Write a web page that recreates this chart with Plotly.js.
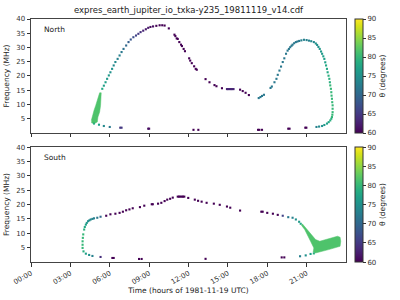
<!DOCTYPE html>
<html>
<head>
<meta charset="utf-8">
<script src="https://cdn.plot.ly/plotly-3.0.1.min.js"></script>
<style>html,body{margin:0;padding:0;background:#fff}#chart{width:400px;height:300px}</style>
</head>
<body>
<div id="chart"></div>
<script>
// ---- Data (hours of day, MHz, degrees) ----
var tickHours = [0, 3, 6, 9, 12, 15, 18, 21];
var tickLabels = ["00:00", "03:00", "06:00", "09:00", "12:00", "15:00", "18:00", "21:00"];
var freqTicks = [5, 10, 15, 20, 25, 30, 35, 40];
var thetaTicks = [60, 65, 70, 75, 80, 85, 90];

var northTime = [4.8,5.18,5.55,6.0,6.8,6.9,8.93,9.0,12.38,12.75,
  5.43,5.55,5.68,5.8,5.93,6.05,6.18,6.3,6.43,6.6,6.75,6.9,7.05,7.25,7.43,7.6,7.8,8.0,8.18,8.35,8.55,8.75,8.93,9.1,9.3,9.55,9.8,10.0,10.18,10.5,
  10.93,11.0,11.1,11.18,11.3,11.43,11.5,11.63,11.73,12.05,12.13,12.25,12.43,12.55,12.63,13.3,13.6,13.98,14.13,14.55,
  14.93,15.03,15.13,15.23,15.33,15.43,15.93,16.13,16.35,16.6,
  17.35,17.48,17.6,17.75,18.25,18.35,18.55,18.7,18.8,18.93,19.05,19.18,19.3,19.43,19.55,19.65,19.75,19.85,19.93,20.05,20.18,20.3,20.43,20.6,20.8,21.0,21.18,21.35,21.55,21.7,21.8,21.9,22.0,22.1,22.18,22.27,22.35,22.42,22.48,22.55,22.6,22.67,22.73,22.77,22.8,22.85,22.88,22.9,22.93,22.95,22.98,22.98,22.98,22.96,22.93,22.88,22.8,22.68,22.55,22.35,22.18,21.95,21.75,
  20.9,20.98,19.6,19.7,17.3,17.4,17.6];
var northFreq = [3.3,2.9,2.45,2.1,1.85,1.85,1.5,1.5,1.1,1.1,
  15.5,16.6,17.8,19.0,20.2,21.3,22.5,23.7,24.9,26.0,27.2,28.4,29.5,30.7,31.9,32.8,33.6,34.2,34.8,35.4,35.9,36.4,36.9,37.2,37.4,37.6,37.8,37.8,37.7,36.7,
  34.5,34.0,33.2,33.0,31.9,31.0,30.5,29.5,28.7,26.2,25.4,24.5,23.4,22.5,22.2,18.9,17.8,16.8,16.4,15.7,
  15.4,15.4,15.4,15.4,15.4,15.4,15.2,14.7,14.1,13.3,
  12.25,12.6,13.0,13.4,15.8,16.3,17.8,19.0,20.4,21.9,23.3,24.9,26.2,27.8,28.9,29.5,30.1,30.6,31.0,31.5,31.9,32.1,32.3,32.5,32.7,32.6,32.4,32.2,31.9,31.4,30.9,30.2,29.5,28.6,27.8,26.9,26.0,24.8,23.7,22.5,21.3,20.1,19.0,17.8,16.7,15.5,14.3,13.1,12.0,10.8,9.7,8.5,7.3,6.4,5.6,5.0,4.4,3.8,3.3,2.8,2.45,2.25,2.1,
  1.85,1.85,1.5,1.5,1.1,1.1,1.1];
var northTheta = [79,77,74,72,65,65,61,61,60,60,
  78,77,77,76,76,75,75,74,74,73,73,72,71,70,69,68,67,66,65,64,63,62,62,61,61,60,60,60,60,60,
  60,60,60,60,60,60,60,60,60,60,60,60,60,60,60,60,60,60,60,60,
  63,63,63,63,63,63,60,60,60,60,
  72,72,72,72,72,72,72,72,72,72,72,72,72,72,72,72,72,72,72,72,72,72,72,73,73,73,73,74,74,75,75,75,76,76,76,77,77,77,78,78,78,79,79,79,80,80,80,80,80,80,80,80,80,80,80,79,79,78,77,76,75,74,73,
  60,60,60,60,60,60,60];

// thick emission region (outline) in the northern panel
var northBlobTime = [4.6,4.68,4.8,4.93,5.05,5.15,5.23,5.35,5.35,5.3,5.23,5.1,5.05,4.8,4.6];
var northBlobFreq = [4.42,6.17,7.92,9.67,11.42,13.17,14.1,14.1,12.0,9.67,7.34,5.59,3.84,3.26,3.6];

var southTime = [5.3,4.68,4.43,4.18,4.0,3.93,3.93,3.93,3.95,3.98,4.05,4.1,4.18,4.25,4.35,4.45,4.55,4.68,4.8,5.05,5.3,
  5.73,6.05,6.43,6.75,7.0,7.25,7.5,7.75,8.3,8.63,9.2,9.28,9.68,9.93,10.18,10.38,10.6,10.8,
  11.18,11.28,11.38,11.48,11.58,11.68,11.98,12.48,12.73,13.0,13.38,13.93,14.38,14.93,15.18,15.93,17.55,17.65,
  18.0,18.43,18.8,19.18,19.6,19.93,20.18,20.43,20.55,
  6.2,6.3,8.23,8.43,13.3,19.1,19.3,20.5,20.93,21.3,21.55];
var southFreq = [1.75,2.1,2.45,2.9,3.7,4.9,6.0,7.2,8.4,9.6,11.3,12.2,13.0,13.6,14.2,14.5,14.8,15.0,15.2,15.4,15.75,
  16.1,16.6,16.8,17.1,17.5,18.0,18.3,18.7,19.1,19.6,20.1,20.1,20.3,20.6,21.2,21.7,22.0,22.4,
  22.75,22.75,22.75,22.75,22.75,22.75,22.3,21.7,21.3,21.0,20.6,20.3,19.9,19.3,18.9,17.9,17.5,17.5,
  17.1,16.8,16.4,16.1,15.6,15.4,14.8,14.0,13.3,
  1.4,1.4,1.05,1.05,1.1,1.6,1.6,2.0,2.3,2.8,3.0];
var southTheta = [64,73,75,77,79,80,80,80,80,80,79,78,77,76,75,74,74,73,73,72,70,
  60,60,60,60,60,60,60,60,60,60,60,60,60,60,60,60,60,60,
  60,60,60,60,60,60,60,60,60,60,60,60,60,60,60,60,60,60,
  60,60,60,66,72,73,75,76,78,
  60,60,60,60,60,60,60,73,75,77,79];

// thick emission region (outline) in the southern panel
var southWedgeTime = [20.67,20.93,21.18,21.43,21.68,22.0,22.43,22.93,23.35,23.55,23.6,23.55,23.18,22.68,22.18,21.68,21.5,21.55,21.3,21.05,20.85,20.6];
var southWedgeFreq = [13.29,11.89,10.49,8.97,7.81,7.22,7.81,8.39,8.97,8.62,7.22,5.47,4.89,4.31,3.72,3.14,3.49,4.89,7.22,9.56,11.3,12.82];

// ---- Plot ----
var FONT = "DejaVu Sans, Liberation Sans, sans-serif";
var blobColor = "#4ec36b";

function pts(t, f, th, xa, ya, ca) {
  return {type: "scatter", mode: "markers", x: t, y: f, xaxis: xa, yaxis: ya,
    marker: {symbol: "square", size: 2.1, color: th, coloraxis: ca, line: {width: 0}},
    hoverinfo: "skip", showlegend: false};
}
function poly(t, f, xa, ya) {
  return {type: "scatter", mode: "lines", x: t, y: f, xaxis: xa, yaxis: ya, fill: "toself",
    fillcolor: blobColor, line: {color: blobColor, width: 0.5}, hoverinfo: "skip", showlegend: false};
}

var data = [
  poly(northBlobTime, northBlobFreq, "x", "y"),
  pts(northTime, northFreq, northTheta, "x", "y", "coloraxis"),
  poly(southWedgeTime, southWedgeFreq, "x2", "y2"),
  pts(southTime, southFreq, southTheta, "x2", "y2", "coloraxis2")
];

function xax(showLabels, anchor) {
  return {domain: [0, 1], range: [0, 24], anchor: anchor, tickvals: tickHours, ticktext: tickLabels,
    showticklabels: showLabels, tickangle: -30, ticks: "outside", ticklen: 3.5, tickcolor: "#333",
    tickfont: {size: 7, color: "#333", family: FONT}, showgrid: false, zeroline: false,
    showline: true, mirror: true, linecolor: "#444", linewidth: 1};
}
function yax(dom, anchor) {
  return {domain: dom, range: [0, 40], anchor: anchor, tickvals: freqTicks, ticks: "outside", ticklen: 3.5,
    tickcolor: "#333", tickfont: {size: 7, color: "#333", family: FONT}, showgrid: false, zeroline: false,
    showline: true, mirror: true, linecolor: "#444", linewidth: 1,
    title: {text: "Frequency (MHz)", font: {size: 7.5, color: "#222", family: FONT}, standoff: 5}};
}
function cax(y, len) {
  return {colorscale: "Viridis", cmin: 60, cmax: 90,
    colorbar: {x: 1.028, xanchor: "left", y: y, yanchor: "top", len: len, lenmode: "fraction",
      thickness: 8, thicknessmode: "pixels", xpad: 0, ypad: 0, tickvals: thetaTicks, ticks: "outside",
      ticklen: 3, tickcolor: "#333", tickfont: {size: 7, color: "#333", family: FONT},
      outlinewidth: 1, outlinecolor: "#333",
      title: {text: "θ (degrees)", side: "right", font: {size: 7.5, color: "#222", family: FONT}}}};
}

var layout = {
  width: 400, height: 300,
  margin: {l: 31, r: 49, t: 19, b: 38},
  paper_bgcolor: "#fff", plot_bgcolor: "#fff",
  font: {family: FONT, color: "#222"},
  title: {text: "expres_earth_jupiter_io_txka-y235_19811119_v14.cdf", x: 0.5, xref: "paper",
    y: 0.968, yref: "container", yanchor: "middle", font: {size: 8.5, color: "#222", family: FONT}},
  xaxis: xax(false, "y"),
  yaxis: yax([0.531, 1], "x"),
  xaxis2: Object.assign(xax(true, "y2"), {title: {text: "Time (hours of 1981-11-19 UTC)",
    font: {size: 7.5, color: "#222", family: FONT}, standoff: 2}}),
  yaxis2: yax([0, 0.473], "x2"),
  coloraxis: cax(1, 0.469),
  coloraxis2: cax(0.473, 0.473),
  annotations: [
    {text: "North", xref: "x domain", yref: "y domain", x: 0.035, y: 0.91, xanchor: "left", yanchor: "middle",
      showarrow: false, font: {size: 7.5, color: "#222", family: FONT}},
    {text: "South", xref: "x2 domain", yref: "y2 domain", x: 0.035, y: 0.905, xanchor: "left", yanchor: "middle",
      showarrow: false, font: {size: 7.5, color: "#222", family: FONT}}
  ]
};

Plotly.newPlot("chart", data, layout, {staticPlot: true, displayModeBar: false});
</script>
</body>
</html>
